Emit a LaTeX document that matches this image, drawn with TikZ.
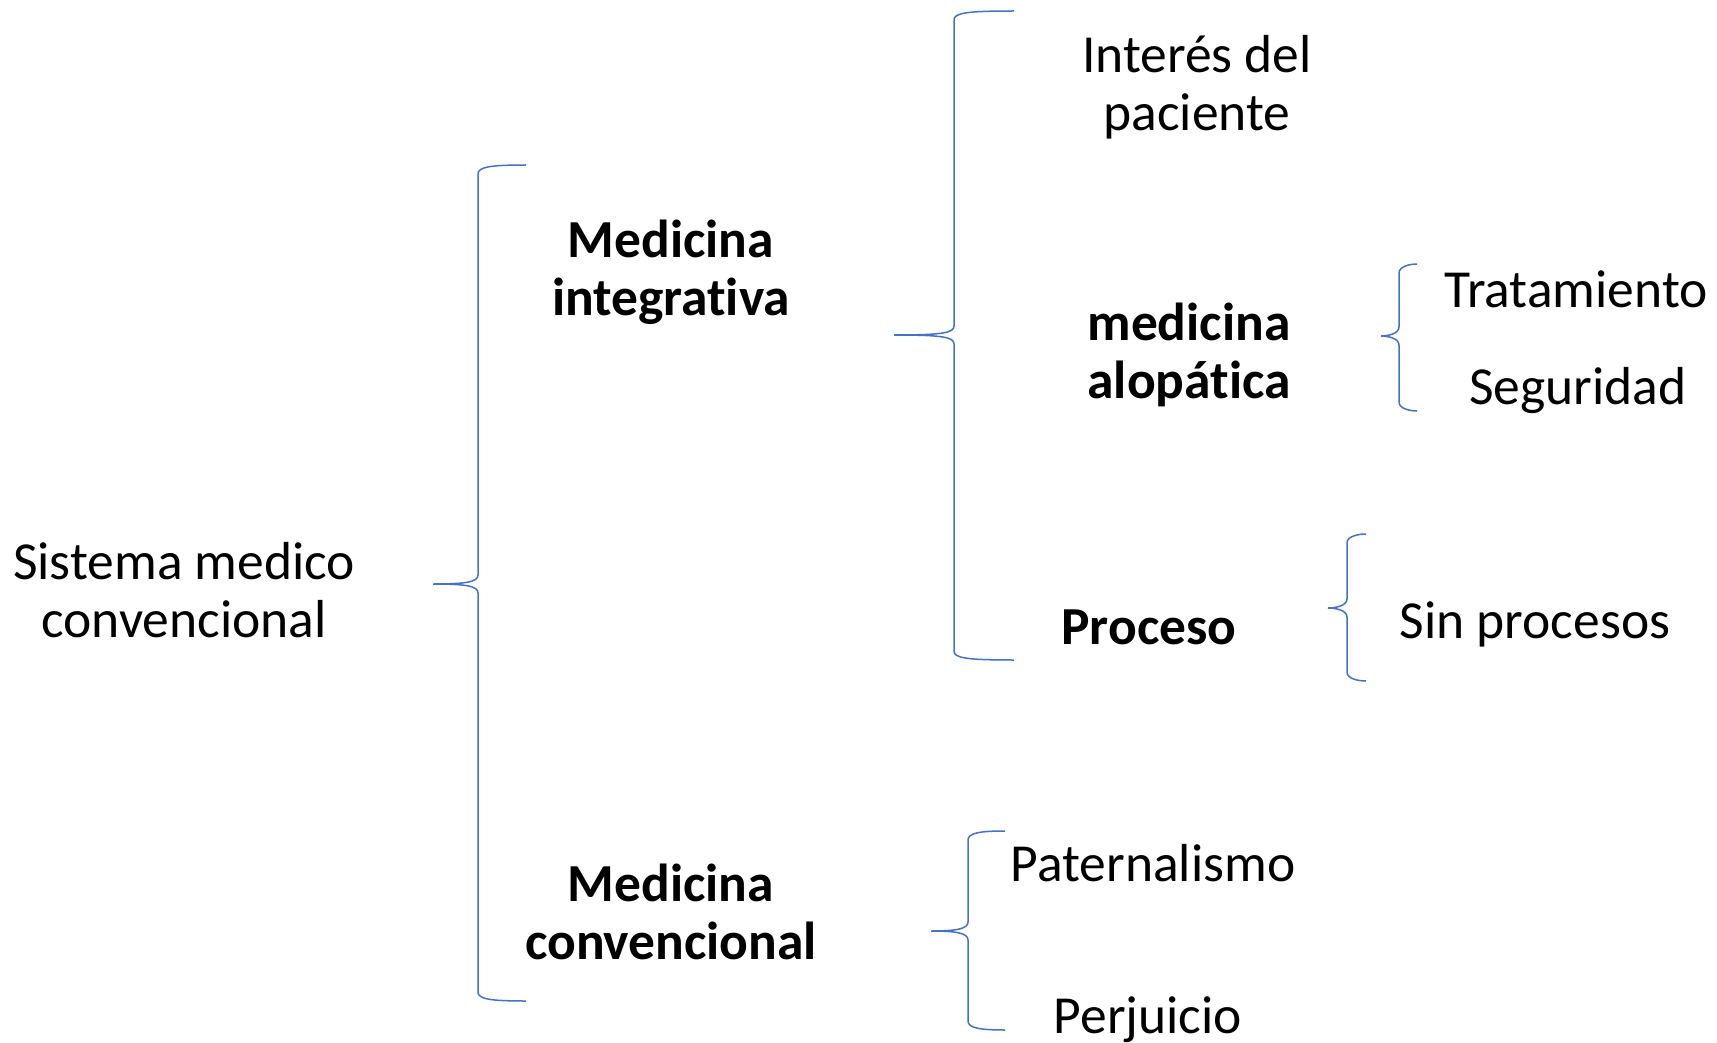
\documentclass[tikz,border=0pt]{standalone}
\usepackage{fontspec}
\setmainfont{Carlito}[Ligatures=NoCommon]
\newcommand{\mybrace}[6]{%
  \draw[brc] (#6,#4) .. controls ({#3+12},#4) and (#3,{#4+2}) .. (#3,{#4+9})
    -- (#3,{#2-9}) .. controls (#3,{#2-2}) and ({#3-12},#2) .. (#1,#2)
    .. controls ({#3-12},#2) and (#3,{#2+2}) .. (#3,{#2+9})
    -- (#3,{#5-9}) .. controls (#3,{#5-2}) and ({#3+12},#5) .. (#6,#5);}
\begin{document}
\begin{tikzpicture}[x=1pt,y=-1pt,
  brc/.style={draw=bracecol,line width=1.5pt},
  txt/.style={inner sep=0pt,align=center,font=\fontsize{53.5}{58}\selectfont},
  btxt/.style={txt,font=\fontsize{53.5}{58}\selectfont\bfseries}]
\definecolor{bracecol}{HTML}{4472C4}
\useasboundingbox[fill=white] (0,0) rectangle (1717,1043);
\node[txt] (sis) at (184,590) {Sistema medico\\convencional};
\node[btxt] (mi) at (671,272) {Medicina\\integrativa};
\node[btxt] (mc) at (671,912) {Medicina\\convencional};
\node[txt] (int) at (1197,87) {Interés del\\paciente};
\node[btxt] (alo) at (1189,355) {medicina\\alopática};
\node[btxt,anchor=base] (pro) at (1149,644) {Proceso};
\node[txt,anchor=base] (tra) at (1576,307) {Tratamiento};
\node[txt,anchor=base] (seg) at (1578,404) {Seguridad};
\node[txt,anchor=base] (sin) at (1535,638) {Sin procesos};
\node[txt,anchor=base] (pat) at (1153,881) {Paternalismo};
\node[txt,anchor=base] (per) at (1148,1033) {Perjuicio};
\mybrace{433}{584}{478}{165}{1001}{526}
\mybrace{894}{335}{954}{11}{660}{1014}
\mybrace{1381}{336}{1399}{264}{411}{1417}
\mybrace{1328}{608}{1347}{534}{681}{1366}
\mybrace{931}{931}{968}{831}{1030}{1005}
\end{tikzpicture}
\end{document}
